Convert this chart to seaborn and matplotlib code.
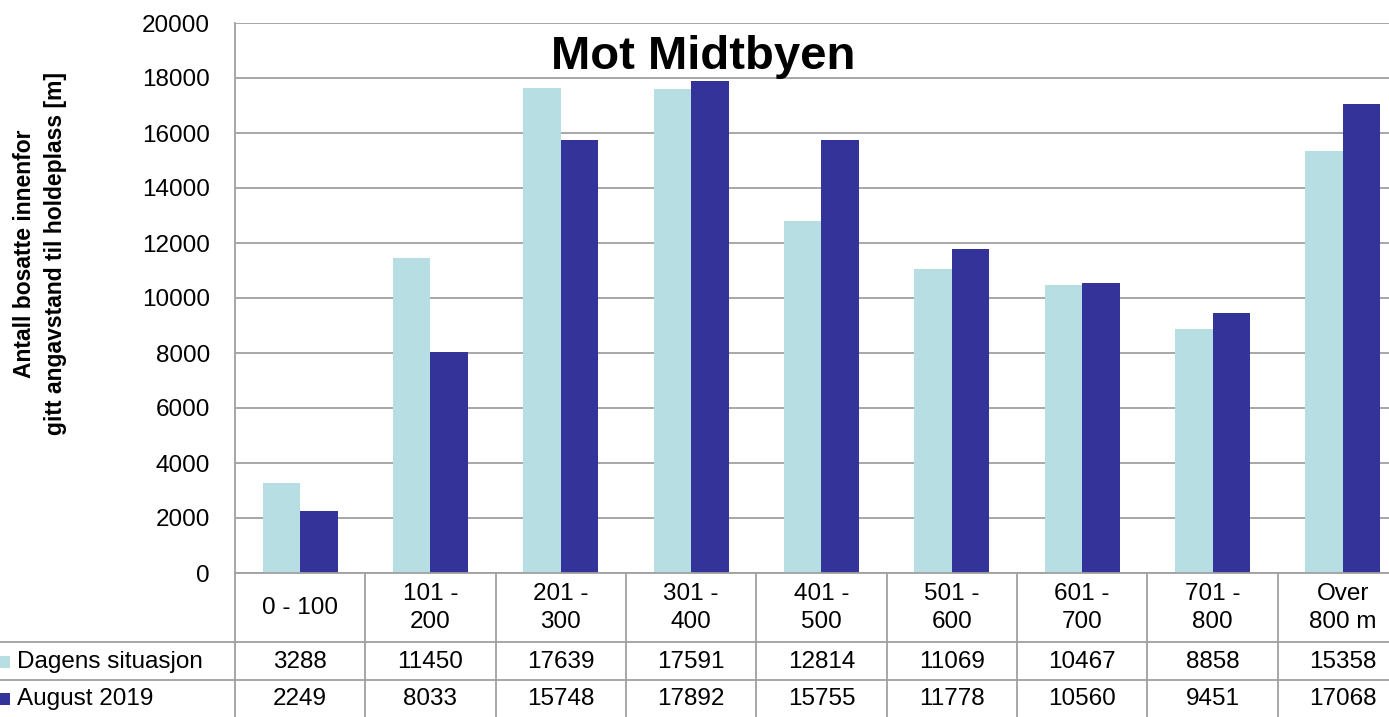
import pandas as pd
import seaborn as sns
import matplotlib.pyplot as plt
from matplotlib.patches import Rectangle
from matplotlib.lines import Line2D
from matplotlib.transforms import blended_transform_factory

categories = ["0 - 100", "101 -\n200", "201 -\n300", "301 -\n400", "401 -\n500",
              "501 -\n600", "601 -\n700", "701 -\n800", "Over\n800 m"]
dagens = [3288, 11450, 17639, 17591, 12814, 11069, 10467, 8858, 15358]
august = [2249, 8033, 15748, 17892, 15755, 11778, 10560, 9451, 17068]
series_names = ["Dagens situasjon", "August 2019"]
colors = ["#B7DFE3", "#333399"]
yticks = list(range(0, 20001, 2000))

df = pd.DataFrame({
    "avstand": categories * 2,
    "serie": [series_names[0]] * len(categories) + [series_names[1]] * len(categories),
    "antall": dagens + august,
})

sns.set_style("white")
plt.rcParams["font.family"] = ["Liberation Sans", "DejaVu Sans"]
plt.rcParams["text.color"] = "black"
plt.rcParams["ytick.color"] = "black"

W, H = 1389, 717
fig = plt.figure(figsize=(W / 100, H / 100), dpi=100)
# axes in pixel terms: left 235, right 1408 (cropped past the image edge), top 23, bottom 573
ax = fig.add_axes([235 / W, (H - 573) / H, (1408 - 235) / W, 550 / H])

sns.barplot(data=df, x="avstand", y="antall", hue="serie", palette=colors,
            width=0.575, saturation=1, ax=ax, legend=False, linewidth=0, edgecolor="none")

grid_col = "#A0A0A0"
ax.set_xlim(-0.5, len(categories) - 0.5)
ax.set_ylim(0, 20000)
ax.set_yticks(yticks)
ax.set_yticklabels([str(v) for v in yticks], fontsize=17.5, color="black")
ax.tick_params(axis="y", length=0, pad=18)
ax.set_xticks([])
ax.set_xlabel("")
ax.set_ylabel("")
ax.yaxis.grid(True, color=grid_col, lw=1.3)
ax.set_axisbelow(True)
for s in ["top", "right"]:
    ax.spines[s].set_visible(False)
for s in ["left", "bottom"]:
    ax.spines[s].set_color(grid_col)
    ax.spines[s].set_linewidth(1.3)

fig.text(703 / W, 1 - 57 / H, "Mot Midtbyen", fontsize=34, fontweight="bold",
         ha="center", va="center", color="black")
fig.text(40 / W, 1 - 254 / H, "Antall bosatte innenfor\ngitt angavstand til holdeplass [m]",
         fontsize=16.5, fontweight="bold", rotation=90, ha="center", va="center",
         linespacing=1.45, color="black")

# data table under the axis
trans = blended_transform_factory(ax.transData, ax.transAxes)


def ay(px):
    return (573 - px) / 550


x_fig0 = -0.5 - 235 / ((1408 - 235) / len(categories))
for py in [642, 680]:
    ax.add_line(Line2D([x_fig0, len(categories) - 0.5], [ay(py), ay(py)], transform=trans,
                       color=grid_col, lw=1.3, clip_on=False))
for i in range(len(categories) + 1):
    ax.add_line(Line2D([i - 0.5, i - 0.5], [ay(573), ay(720)], transform=trans,
                       color=grid_col, lw=1.3, clip_on=False))

for i, cat in enumerate(categories):
    ax.text(i, ay(608), cat, transform=trans, ha="center", va="center", fontsize=17.5,
            linespacing=1.3, color="black")
    ax.text(i, ay(662), str(dagens[i]), transform=trans, ha="center", va="center",
            fontsize=17.5, color="black")
    ax.text(i, ay(699), str(august[i]), transform=trans, ha="center", va="center",
            fontsize=17.5, color="black")

for name, col, py in zip(series_names, colors, [662, 699]):
    fig.patches.append(Rectangle((0, 1 - (py + 6) / H), 10 / W, 12 / H,
                                 transform=fig.transFigure, facecolor=col, edgecolor="none"))
    fig.text(17 / W, 1 - py / H, name, fontsize=17.5, ha="left", va="center", color="black")

plt.savefig("out.png", dpi=100)
